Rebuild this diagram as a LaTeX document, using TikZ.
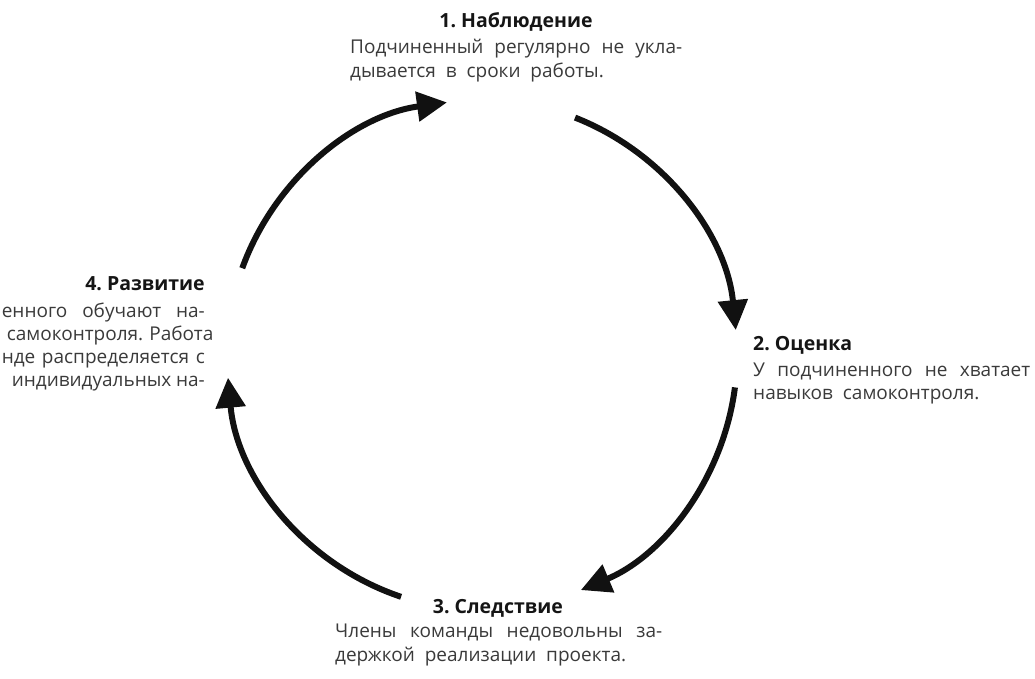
\documentclass[tikz,border=0pt]{standalone}
\usepackage{fontspec}
\setmainfont{Open Sans}
\usetikzlibrary{arrows.meta,calc}
\definecolor{bodytext}{HTML}{3A3A3A}
\definecolor{headtext}{HTML}{151515}
\definecolor{arrowcol}{HTML}{111111}
\begin{document}
\begin{tikzpicture}[x=1pt,y=-1pt,
  head/.style={inner sep=0pt, text=headtext, font=\fontsize{19.5}{24}\selectfont\bfseries},
  body/.style={inner sep=0pt, text=bodytext, font=\fontsize{19}{24}\selectfont},
  cyclearrow/.style={draw=arrowcol, line width=6pt, -{Triangle[length=30pt,width=29pt]}}]
\useasboundingbox (0,0) rectangle (1035,679);
\coordinate (c) at (482,355);
% arc end points (angles negated because y grows downwards)
\coordinate (a1s) at ($(c)+(-160.1:255)$);
\coordinate (a2s) at ($(c)+(-68.6:255)$);
\coordinate (a3s) at ($(c)+(7.3:255)$);
\coordinate (a4s) at ($(c)+(108.5:255)$);
\draw[cyclearrow] (a1s) arc[start angle=-160.1, end angle=-97.9, radius=255];
\draw[cyclearrow] (a2s) arc[start angle=-68.6, end angle=-5.6, radius=255];
\draw[cyclearrow] (a3s) arc[start angle=7.3, end angle=67.2, radius=255];
\draw[cyclearrow] (a4s) arc[start angle=108.5, end angle=174.9, radius=255];
% 1
\node[head, anchor=base] (t1) at (516,28) {1.\ Наблюдение};
\node[body, anchor=base west] (b1a) at (350,54) {\makebox[332pt][s]{Подчиненный регулярно не укла-}};
\node[body, anchor=base west] (b1b) at (350,78) {дывается\ \ в\ \ сроки\ \ работы.};
% 2
\node[head, anchor=base west] (t2) at (753,350) {2.\ Оценка};
\node[body, anchor=base west] (b2a) at (753,376) {\makebox[277pt][s]{У подчиненного не хватает}};
\node[body, anchor=base west] (b2b) at (753,399) {навыков\ \ самоконтроля.};
% 3
\node[head, anchor=base] (t3) at (498,613) {3.\ Следствие};
\node[body, anchor=base west] (b3a) at (335,637) {\makebox[327pt][s]{Члены команды недовольны за-}};
\node[body, anchor=base west] (b3b) at (335,661) {держкой\ \ реализации\ \ проекта.};
% 4
\node[head, anchor=base east] (t4) at (205,290) {4.\ Развитие};
\node[body, anchor=base east] (b4a) at (205,317) {\makebox[203pt][s]{енного обучают на-}};
\node[body, anchor=base east] (b4b) at (205,340) {\makebox[198pt][s]{самоконтроля. Работа}};
\node[body, anchor=base east] (b4c) at (205,363) {\makebox[203pt][s]{нде распределяется с}};
\node[body, anchor=base east] (b4d) at (205,386) {\makebox[193pt][s]{индивидуальных на-}};
\end{tikzpicture}
\end{document}
